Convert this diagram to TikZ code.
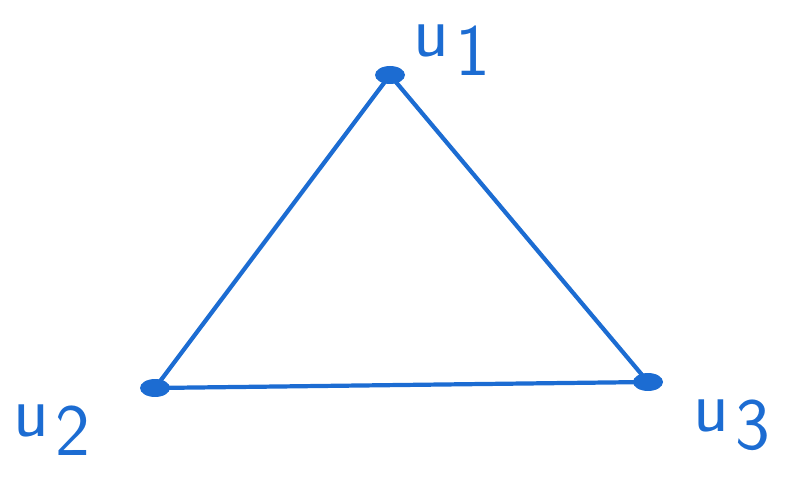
\documentclass[tikz,border=0pt]{standalone}
\usetikzlibrary{shapes.geometric}
\definecolor{penblue}{RGB}{28,108,210}
\newcommand{\vlabel}[1]{u\raisebox{-0.25em}{\kern0.08em#1}}
\begin{document}
\begin{tikzpicture}[x=0.02cm, y=-0.02cm,
    vertex/.style={ellipse, fill=penblue, minimum width=0.6cm, minimum height=0.36cm, inner sep=0pt},
    edge/.style={penblue, line width=2.4pt, line cap=round},
    lbl/.style={text=penblue, inner sep=1pt, font=\sffamily\fontsize{42}{42}\selectfont}]
    \useasboundingbox (0,0) rectangle (791,479);

    \node[vertex] (u1) at (390,75) {};
    \node[vertex] (u2) at (155,388) {};
    \node[vertex] (u3) at (648,382) {};

    \draw[edge] (u1.center) -- (u2.center) -- (u3.center) -- cycle;

    \node[lbl] (l1) at (452,50) {\vlabel{1}};
    \node[lbl] (l2) at (52,430) {\vlabel{2}};
    \node[lbl] (l3) at (732,425) {\vlabel{3}};
\end{tikzpicture}
\end{document}
